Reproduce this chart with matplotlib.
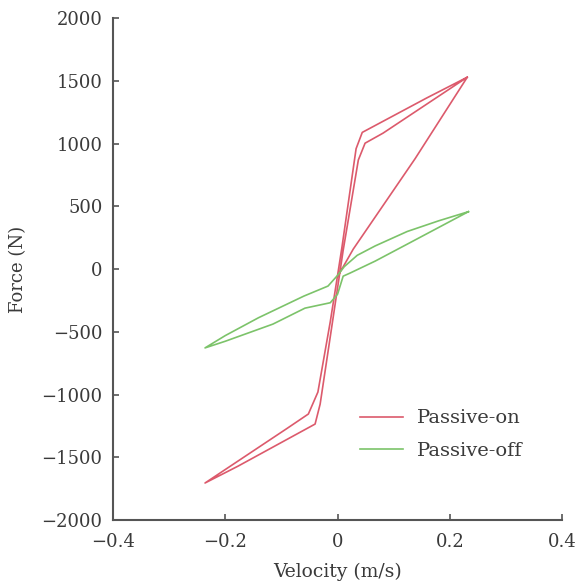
import matplotlib
matplotlib.use("Agg")
import matplotlib.pyplot as plt

plt.rcParams['font.family'] = ['DejaVu Serif']

# Passive-on (red) loop: initial loading, then one full hysteresis cycle
on_v = [0.000, 0.028, 0.138, 0.231,
        0.159, 0.044, 0.033, 0.008, 0.000, -0.013, -0.035, -0.052,
        -0.090, -0.236,
        -0.177, -0.040, -0.031, -0.010, 0.010, 0.037, 0.049,
        0.081, 0.231]
on_f = [-60, 160, 880, 1530,
        1365, 1090, 960, 180, -50, -420, -980, -1155,
        -1270, -1705,
        -1570, -1235, -1076, -450, 150, 870, 1004,
        1084, 1530]

# Passive-off (green) loop
off_v = [0.233, 0.180, 0.124, 0.067, 0.035, 0.012, 0.000, -0.017, -0.060,
         -0.141, -0.200, -0.236,
         -0.200, -0.115, -0.058, -0.013, 0.000, 0.010, 0.022, 0.067, 0.124,
         0.233]
off_f = [458, 385, 300, 185, 110, 20, -50, -135, -215,
         -388, -530, -628,
         -575, -438, -311, -268, -200, -56, -32, 64, 199,
         458]

x_ticks = [-0.4, -0.2, 0, 0.2, 0.4]
x_tick_labels = ["\u22120.4", "\u22120.2", "0", "0.2", "0.4"]
y_ticks = [-2000, -1500, -1000, -500, 0, 500, 1000, 1500, 2000]
y_tick_labels = ["\u22122000", "\u22121500", "\u22121000", "\u2212500", "0",
                 "500", "1000", "1500", "2000"]

fig = plt.figure(figsize=(5.79, 5.88), dpi=100)
ax = fig.add_axes([0.195, 0.1156, 0.776, 0.8534])

ax.plot(on_v, on_f, color='#dc5a6c', lw=1.2, label='Passive-on')
ax.plot(off_v, off_f, color='#7cc36a', lw=1.2, label='Passive-off')

ax.set_xlim(-0.4, 0.4)
ax.set_ylim(-2000, 2000)
ax.set_xticks(x_ticks)
ax.set_xticklabels(x_tick_labels)
ax.set_yticks(y_ticks)
ax.set_yticklabels(y_tick_labels)

for s in ['top', 'right']:
    ax.spines[s].set_visible(False)
for s in ['left', 'bottom']:
    ax.spines[s].set_color('#555555')
    ax.spines[s].set_linewidth(1.5)

ax.tick_params(direction='in', length=4, width=1.2, color='#555555',
               labelsize=13, labelcolor='#3a3a3a')
ax.tick_params(axis='y', pad=7.5)
ax.tick_params(axis='x', pad=9)

ax.set_xlabel('Velocity (m/s)', fontsize=13.5, color='#3a3a3a', labelpad=9)
ax.set_ylabel('Force (N)', fontsize=13, color='#3a3a3a', labelpad=10)

leg = ax.legend(loc='center left', bbox_to_anchor=(0.55, 0.170), frameon=False,
                fontsize=14, handlelength=2.2, handletextpad=0.75,
                labelspacing=0.75, borderpad=0, borderaxespad=0)
for t in leg.get_texts():
    t.set_color('#3a3a3a')

fig.savefig('out.png', dpi=100)
